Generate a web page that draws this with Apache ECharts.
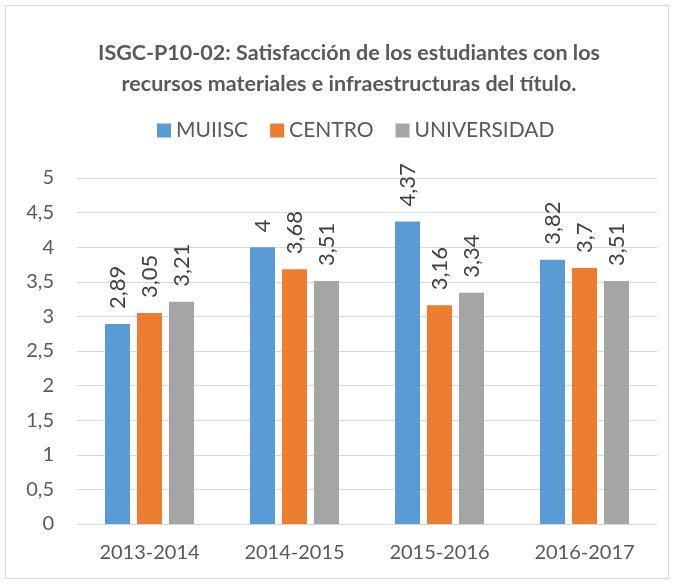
<!DOCTYPE html>
<html>
<head>
<meta charset="utf-8">
<script src="https://cdn.jsdelivr.net/npm/echarts@6/dist/echarts.min.js"></script>
<style>
  html, body { margin: 0; padding: 0; background: #fff; }
  #frame { position: absolute; left: 5px; top: 5px; width: 662px; height: 572px; border: 1px solid #d9d9d9; }
  #chart { position: absolute; left: 0; top: 0; width: 674px; height: 585px; }
</style>
</head>
<body>
<div id="frame"></div>
<div id="chart"></div>
<script>
var categories = ['2013-2014', '2014-2015', '2015-2016', '2016-2017'];
var muiisc = [2.89, 4, 4.37, 3.82];
var centro = [3.05, 3.68, 3.16, 3.7];
var universidad = [3.21, 3.51, 3.34, 3.51];
var seriesNames = ['MUIISC', 'CENTRO', 'UNIVERSIDAD'];
var colors = ['#5b9bd5', '#ed7d31', '#a5a5a5'];

var font = 'Lato, "Open Sans", sans-serif';

function barSeries(name, values, color) {
    return {
        name: name,
        type: 'bar',
        data: values,
        barWidth: 25,
        barGap: '28%',
        itemStyle: { color: color },
        label: {
            show: true,
            position: 'top',
            rotate: 90,
            align: 'left',
            verticalAlign: 'middle',
            distance: 15,
            color: '#404040',
            fontFamily: font,
            fontSize: 22,
            formatter: function (p) { return String(p.value).replace('.', ','); }
        }
    };
}

var myChart = echarts.init(document.getElementById('chart'));
var option = {
    animation: false,
    title: {
        text: 'ISGC-P10-02: Satisfacción de los estudiantes con los\nrecursos materiales e infraestructuras del título.',
        left: 344,
        textAlign: 'center',
        top: 33,
        textStyle: {
            fontFamily: font,
            fontSize: 21.5,
            fontWeight: 'bold',
            color: '#595959',
            lineHeight: 31
        }
    },
    legend: {
        top: 115,
        left: 152,
        itemWidth: 14,
        itemHeight: 14,
        itemGap: 22,
        icon: 'rect',
        textStyle: { fontFamily: font, fontSize: 21, color: '#595959' },
        data: seriesNames
    },
    grid: { left: 77, right: 17, top: 178, bottom: 61 },
    xAxis: {
        type: 'category',
        data: categories,
        axisLine: { lineStyle: { color: '#d9d9d9', width: 1 } },
        axisTick: { show: false },
        axisLabel: { fontFamily: font, fontSize: 20, color: '#595959', margin: 19 }
    },
    yAxis: {
        type: 'value',
        min: 0,
        max: 5,
        interval: 0.5,
        axisLine: { show: false },
        axisTick: { show: false },
        splitLine: { lineStyle: { color: '#d9d9d9', width: 1 } },
        axisLabel: {
            fontFamily: font, fontSize: 20, color: '#595959', margin: 23,
            formatter: function (v) { return String(v).replace('.', ','); }
        }
    },
    series: [
        barSeries(seriesNames[0], muiisc, colors[0]),
        barSeries(seriesNames[1], centro, colors[1]),
        barSeries(seriesNames[2], universidad, colors[2])
    ]
};
myChart.setOption(option);
</script>
</body>
</html>
